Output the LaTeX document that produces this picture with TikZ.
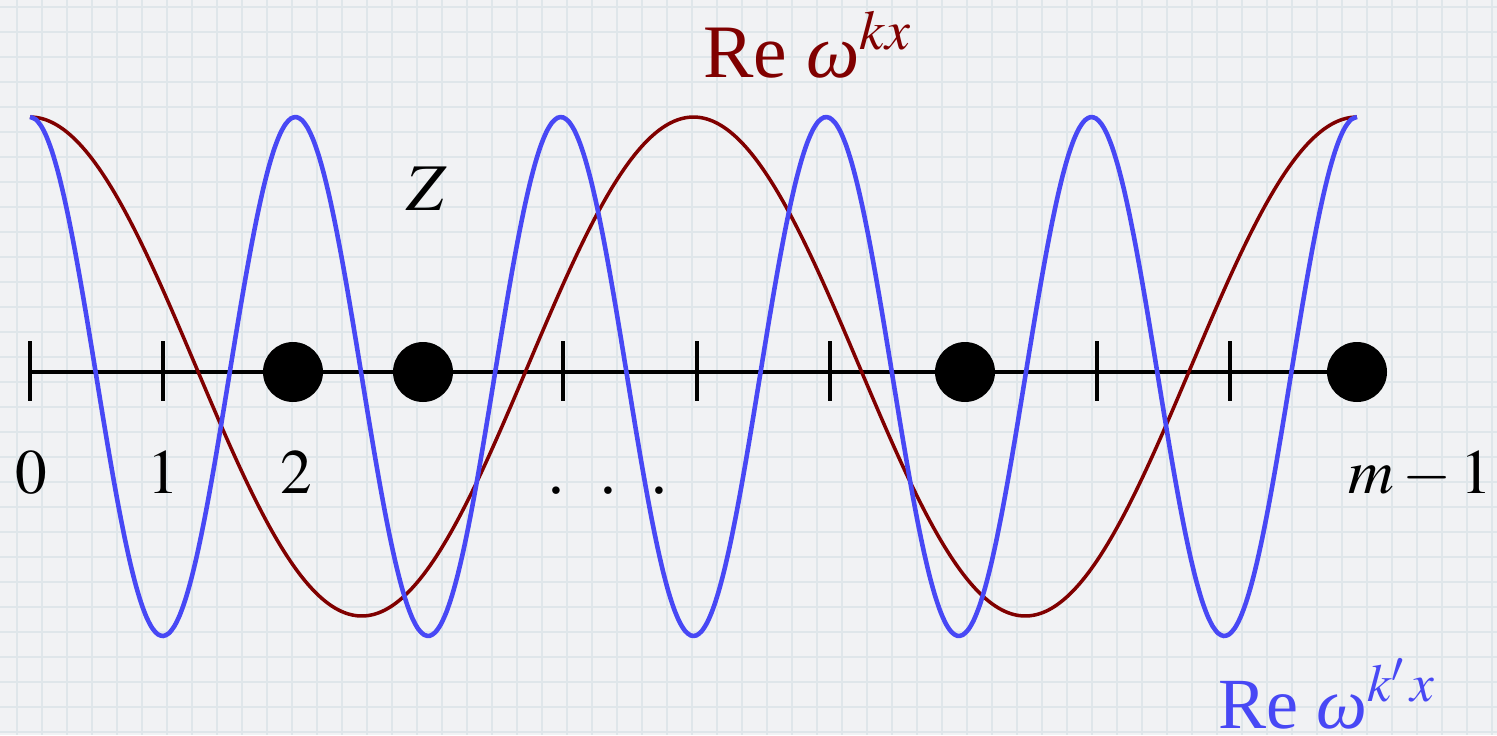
\documentclass[tikz,border=0pt]{standalone}
\usepackage{mathptmx}
\usepackage[no-math]{fontspec}
\setmainfont{Liberation Serif}
\usepackage{tikz}
\usetikzlibrary{positioning, calc}
\definecolor{wavered}{HTML}{800000}
\definecolor{waveblue}{HTML}{4848F5}
\definecolor{paper}{HTML}{F1F2F4}
\definecolor{paperline}{HTML}{DFE6EA}
\newcommand{\omegait}{\textit{ω}}

\begin{document}
\begin{tikzpicture}[x=0.02cm, y=-0.02cm,
    tickmark/.style={line width=2.3pt},
    sample/.style={circle, fill=black, inner sep=0pt, minimum size=1.2cm},
    numlabel/.style={anchor=base, inner sep=0pt, font=\fontsize{36}{40}\selectfont},
    wavelabel/.style={anchor=base west, inner sep=0pt},
  ]
  \useasboundingbox (0,0) rectangle (1497,735);
  % grid paper
  \fill[paper] (0,0) rectangle (1497,735);
  \foreach \gx in {17,42,...,1497}
    \draw[paperline, line width=0.6pt] (\gx,0) -- (\gx,735);
  \foreach \gy in {7,32,...,735}
    \draw[paperline, line width=0.6pt] (0,\gy) -- (1497,\gy);

  % axis points
  \foreach \i/\px in {0/30,1/163,2/293,3/423,4/563,5/697,6/830,7/965,8/1097,9/1230,10/1357}
    \coordinate (p\i) at (\px,372);
  \draw[line width=2.3pt] (p0) -- (p10);
  \foreach \i in {0,1,4,5,6,8,9}
    \draw[tickmark] ($(p\i)+(0,-31)$) -- ($(p\i)+(0,29)$);

  % the two waves
  \draw[wavered, line width=2pt] plot[domain=0:10, samples=240, smooth]
    ({30+132.7*\x}, {366.5-249.5*cos(72*\x)});
  \draw[waveblue, line width=2.6pt] plot[domain=0:10, samples=240, smooth]
    ({30+132.7*\x}, {376.5-259.5*cos(180*\x)});

  % points of Z
  \foreach \i in {2,3,7,10}
    \node[sample] (s\i) at (p\i) {};

  % labels
  \node[numlabel] (l0) at (31,493) {$0$};
  \node[numlabel] (l1) at (163,493) {$1$};
  \node[numlabel] (l2) at (296,493) {$2$};
  \node[numlabel] (ldots) at (608,493) {.\hspace{0.56em}.\hspace{0.56em}.};
  \node[numlabel] (lm) at (1420,493) {$m-1$};
  \node[numlabel, font=\fontsize{38}{42}\selectfont] (zset) at (427,210) {$Z$};
  \node[wavelabel, wavered, font=\fontsize{43}{50}\selectfont] (rered) at (703,77)
    {Re \omegait$^{kx}$};
  \node[wavelabel, waveblue, font=\fontsize{41}{46}\selectfont] (reblue) at (1218,728)
    {Re \omegait$^{k'\,x}$};
\end{tikzpicture}
\end{document}
